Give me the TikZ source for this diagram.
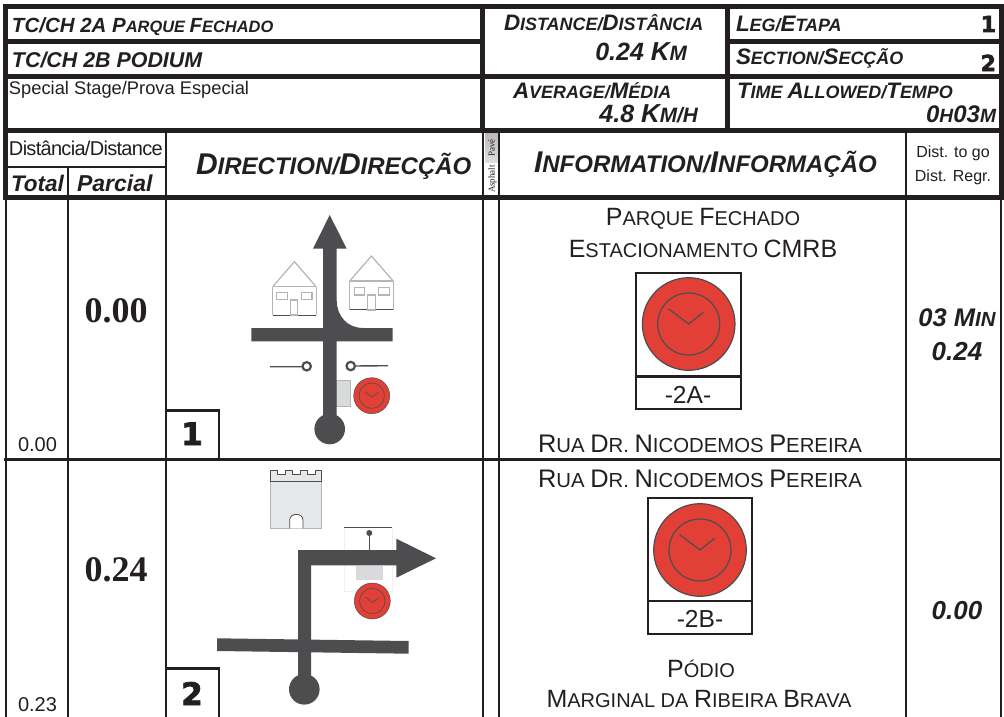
\documentclass[tikz,border=0pt]{standalone}
\usepackage{fontspec}
\setmainfont{Liberation Sans}
\newfontfamily\serifb{Liberation Serif}
\newfontfamily\heavy[BoldFeatures={FakeBold=2.5}]{DejaVu Sans}
\newfontfamily\tight[LetterSpace=-3.5]{Liberation Sans}
\newlength\sclen
\newcommand\SC[3]{\fontsize{#1}{#1}\selectfont #2\setlength\sclen{0.8\dimexpr #1pt\relax}\fontsize{\sclen}{\sclen}\selectfont #3\fontsize{#1}{#1}\selectfont}
\definecolor{ink}{HTML}{231F20}
\definecolor{road}{HTML}{4D4D4F}
\definecolor{clockred}{HTML}{E23F36}
\definecolor{housegrey}{HTML}{B5B5B5}
\definecolor{signgrey}{HTML}{D9DADC}
\definecolor{castlegrey}{HTML}{E6E7E9}
\tikzset{
  txt/.style={inner sep=0pt,outer sep=0pt,text=ink,font=\fontsize{#1}{#1}\selectfont},
  txt/.default=20,
  bi/.style={txt=#1,font=\fontsize{#1}{#1}\selectfont\bfseries\itshape},
  thickline/.style={draw=ink,line width=5pt},
  midline/.style={draw=ink,line width=2.4pt},
  roadfill/.style={fill=road,draw=none},
  houseline/.style={draw=housegrey,line width=1.2pt},
  clockface/.style={fill=clockred,draw=road,line width=.5pt},
  clockhand/.style={draw=road,line width=.6pt},
  bigclockhand/.style={draw=road,line width=1.2pt},
}
\newcommand\house[2]{% x, y of wall top
  \begin{scope}[shift={(#1,#2)}]
    \draw[houseline] (0,0) -- (21.7,-25) -- (43.5,0);
    \draw[houseline] (0,0) -- (0,28.5) (43.5,0) -- (43.5,28.5);
    \draw[houseline,line width=1.5pt] (0,0) -- (43.5,0);
    \draw[draw=road,line width=.7pt] (0,28.5) -- (43.5,28.5);
  \end{scope}}
\newcommand\smallclock[2]{%
  \draw[clockface] (#1,#2) circle[radius=18];
  \draw[clockhand] (#1,#2) circle[radius=12.7];
  \draw[clockhand] (#1-7,#2-4) -- (#1,#2+1.5) -- (#1+7,#2-3.5);}
\newcommand\bigclock[2]{%
  \draw[clockface,line width=1.2pt] (#1,#2) circle[radius=46.3];
  \draw[bigclockhand] (#1,#2) circle[radius=31];
  \draw[bigclockhand] (#1-20.4,#2-15.3) -- (#1,#2) -- (#1+14.6,#2-11.7);}
\begin{document}
\begin{tikzpicture}[x=1pt,y=-1pt]
\useasboundingbox (0,0) rectangle (1004,717);
\fill[white] (0,0) rectangle (1004,717);
% asphalt / pave cell
\shade[top color=gray!55,bottom color=gray!25] (485,133) rectangle (498,162);
% header frame
\draw[thickline] (3,6.5) -- (1004,6.5);
\draw[thickline] (3,41.5) -- (482,41.5) (727,41.5) -- (1004,41.5);
\draw[thickline] (3,76.5) -- (1004,76.5);
\draw[thickline] (3,130.5) -- (1004,130.5);
\draw[thickline] (3,197.5) -- (1004,197.5);
\draw[thickline] (5.5,4) -- (5.5,200);
\draw[thickline] (482.5,4) -- (482.5,133);
\draw[thickline] (727,4) -- (727,133);
\draw[thickline] (1001.5,4) -- (1001.5,200);
% lower grid
\draw[midline] (6,195) -- (6,717);
\draw[midline] (68,167) -- (68,717);
\draw[midline] (166,133) -- (166,717);
\draw[midline] (483,133) -- (483,717);
\draw[midline] (499,133) -- (499,717);
\draw[midline] (906,133) -- (906,717);
\draw[midline] (1001,195) -- (1001,717);
\draw[midline] (6,167) -- (166,167);
\draw[midline] (4,459.5) -- (1002,459.5);
\draw[midline] (166,410.5) -- (219,410.5) -- (219,459);
\draw[midline] (166,668.5) -- (219,668.5) -- (219,717);
% header text
\node[bi=20.5,anchor=base west] (t1) at (12,33) {\SC{20.5}{TC/CH 2A P}{ARQUE }\SC{20.5}{F}{ECHADO}};
\node[bi=21.4,anchor=base west] (t2) at (12,67) {TC/CH 2B PODIUM};
\node[txt=18.3,anchor=base west] (t3) at (9,95) {Special Stage/Prova Especial};
\node[bi=22,anchor=base west] (t4) at (504,31) {\SC{22.4}{D}{ISTANCE/}\SC{22.4}{D}{ISTÂNCIA}};
\node[bi=25,anchor=base east] (t5) at (687,60) {0.24 \SC{26}{K}{M}};
\node[bi=22,anchor=base west] (t6) at (736,32) {\SC{22.4}{L}{EG/}\SC{22.4}{E}{TAPA}};
\node[txt=22,anchor=base east] (t7) at (996,32) {\heavy\bfseries 1};
\node[bi=22,anchor=base west] (t8) at (736,64) {\SC{22.4}{S}{ECTION/}\SC{22.4}{S}{ECÇÃO}};
\node[txt=22,anchor=base east] (t9) at (996,71) {\heavy\bfseries 2};
\node[bi=22,anchor=base west] (t10) at (513,98) {\SC{22.4}{A}{VERAGE/}\SC{22.4}{M}{ÉDIA}};
\node[bi=25,anchor=base east] (t11) at (698,122) {4.8 \SC{26}{K}{M/H}};
\node[bi=22,anchor=base west] (t12) at (737,99) {\SC{22.4}{T}{IME }\SC{22.4}{A}{LLOWED/}\SC{22.4}{T}{EMPO}};
\node[bi=24,anchor=base east] (t13) at (996,122) {\SC{24}{0}{H}\SC{24}{03}{M}};
\node[txt=20,anchor=base west] (t14) at (9,155) {\tight Distância/Distance};
\node[bi=22.5,anchor=base west] (t15) at (11,191) {Total};
\node[bi=23,anchor=base west] (t16) at (77,191) {Parcial};
\node[bi=30,anchor=base west] (t17) at (196,174) {\SC{30}{D}{IRECTION/}\SC{30}{D}{IRECÇÃO}};
\node[bi=30,anchor=base west] (t18) at (534,172) {\SC{30}{I}{NFORMATION/}\SC{30}{I}{NFORMAÇÃO}};
\node[txt=16,anchor=base] (t19) at (953,157) {Dist. to go};
\node[txt=16,anchor=base] (t20) at (953,181) {Dist. Regr.};
\node[txt=9,anchor=base,rotate=90,text=ink] (t21) at (494.5,148) {\serifb Pavé};
\node[txt=9,anchor=base,rotate=90,text=ink] (t22) at (494.5,179) {\serifb Asphalt};
% row text
\node[txt=36,anchor=base] (r1) at (116,322) {\serifb\bfseries 0.00};
\node[txt=20,anchor=base west] (r2) at (18,451) {0.00};
\node[txt=36,anchor=base] (r3) at (116,581) {\serifb\bfseries 0.24};
\node[txt=20,anchor=base west] (r4) at (18,711) {0.23};
\node[txt=31,anchor=base] (n1) at (192,445) {\heavy\bfseries 1};
\node[txt=31,anchor=base] (n2) at (192,705) {\heavy\bfseries 2};
% information
\node[txt=25,anchor=base] (i1) at (703,225) {\SC{25}{P}{ARQUE }\SC{25}{F}{ECHADO}};
\node[txt=25,anchor=base] (i2) at (703,257) {\SC{25}{E}{STACIONAMENTO }CMRB};
\node[txt=25,anchor=base] (i3) at (700,452) {\SC{25.4}{R}{UA }\SC{25.4}{D}{R. }\SC{25.4}{N}{ICODEMOS }\SC{25.4}{P}{EREIRA}};
\node[txt=25,anchor=base] (i4) at (700,487) {\SC{25.4}{R}{UA }\SC{25.4}{D}{R. }\SC{25.4}{N}{ICODEMOS }\SC{25.4}{P}{EREIRA}};
\node[txt=25,anchor=base] (i5) at (701,677) {\SC{25}{P}{ÓDIO}};
\node[txt=25,anchor=base] (i6) at (699,707) {\SC{25}{M}{ARGINAL DA }\SC{25}{R}{IBEIRA }\SC{25}{B}{RAVA}};
\node[bi=25.5,anchor=base] (d1) at (957,326) {03 \SC{25.5}{M}{IN}};
\node[bi=26,anchor=base] (d2) at (957,360) {0.24};
\node[bi=26,anchor=base] (d3) at (957,619) {0.00};
% big clock boxes
\bigclock{688.7}{324}
\draw[midline] (636,272.7) rectangle (740.7,409);
\draw[midline] (636,376.3) -- (740.7,376.3);
\node[txt=24.6,anchor=base] (b1) at (688,403) {-2A-};
\bigclock{700}{550}
\draw[midline] (648,498) rectangle (752,634);
\draw[midline] (648,601) -- (752,601);
\node[txt=24.6,anchor=base] (b2) at (700,627) {-2B-};
% diagram 1
\house{272.7}{286.7}
\house{349.7}{281}
\begin{scope}[houseline]
\draw (276.7,292.3) rectangle (287.3,299.3) (301.3,292.3) rectangle (312,299.3);
\draw (290.3,300) rectangle (297.7,315);
\draw (354.3,287.3) rectangle (364.3,295) (378.3,287.3) rectangle (389.3,295);
\draw (367.7,295) rectangle (375.3,310);
\end{scope}
\fill[signgrey] (336.7,380.3) rectangle (350.7,406.7);
\draw[draw=housegrey,line width=.6pt] (336.7,380.3) rectangle (350.7,406.7);
\path[roadfill] (329.7,215) -- (346.7,248.7) -- (336.7,248.7) -- (336.7,300)
  .. controls (336.7,316) and (347,328) .. (363.3,328) -- (392.7,328) -- (392.7,341.3)
  -- (336.7,341.3) -- (336.7,420) -- (323,420) -- (323,341.3) -- (251.3,341.3) -- (251.3,328)
  -- (323,328) -- (323,248.7) -- (313,248.7) -- cycle;
\fill[road] (329.7,429) circle[radius=15.3];
\draw[road,line width=1.4pt] (270,366.7) -- (302.7,366.7) (354.7,366) -- (388,365.7);
\draw[road,line width=2.2pt] (306.7,366.3) circle[radius=4.2] (350.7,366) circle[radius=4.2];
\smallclock{371.7}{395.7}
% diagram 2
\path[draw=housegrey,line width=.8pt,fill=castlegrey] (270.3,481.7) -- (321.7,481.7) -- (321.7,528.3) -- (270.3,528.3) -- cycle;
\draw[draw=road,line width=.8pt,fill=castlegrey] (270.3,481.7) -- (270.3,470.3) -- (277.3,470.3) -- (277.3,474.3) -- (285,474.3) -- (285,470.3) -- (292.3,470.3) -- (292.3,474.3) -- (300,474.3) -- (300,470.3) -- (307.7,470.3) -- (307.7,474.3) -- (315,474.3) -- (315,470.3) -- (321.7,470.3) -- (321.7,481.7) -- cycle;
\draw[draw=road,line width=.8pt,fill=white] (289.7,528.3) -- (289.7,520) .. controls (289.7,512.5) and (303,512.5) .. (303,520) -- (303,528.3);
\draw[draw=black!6,line width=.5pt] (344.3,527.3) rectangle (392.3,591);
\draw[draw=road,line width=.8pt] (344.3,527.3) -- (392.3,527.3);
\fill[signgrey] (356,566) rectangle (382.7,579.7);
\draw[road,line width=.8pt] (369.3,533) -- (369.3,550);
\fill[road] (369.3,533) circle[radius=3];
\path[roadfill] (298,550) -- (396.3,550) -- (396.3,538.7) -- (436,558.3) -- (396.3,577.7) -- (396.3,565.3) -- (311,565.3) -- (311,680) -- (298,680) -- cycle;
\path[roadfill] (217,638.3) -- (408.7,641) -- (408.7,653.7) -- (217,651) -- cycle;
\fill[road] (304.3,689.3) circle[radius=15.3];
\smallclock{372.3}{601}
\end{tikzpicture}
\end{document}
